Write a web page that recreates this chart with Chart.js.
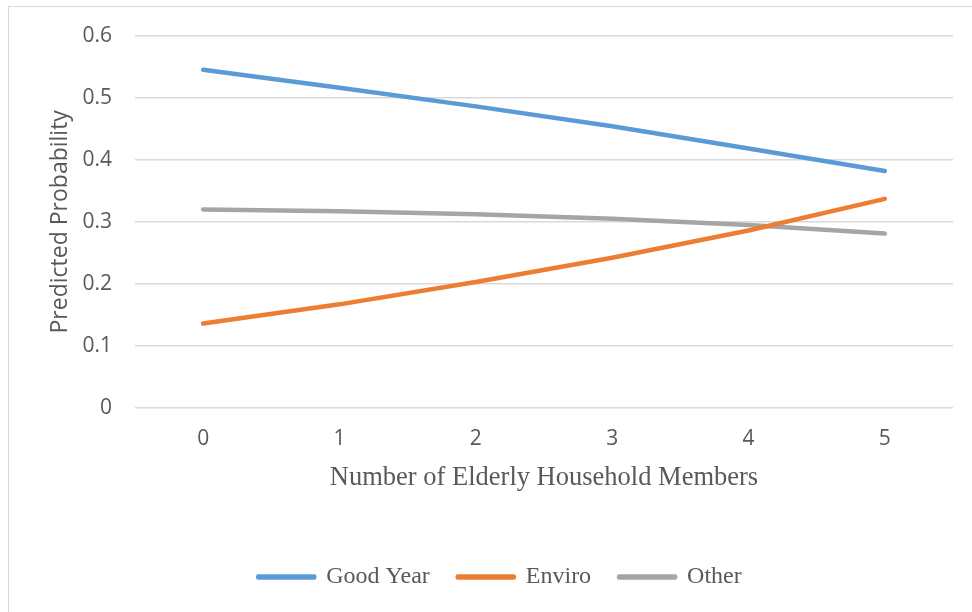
<!DOCTYPE html>
<html>
<head>
<meta charset="utf-8">
<script src="https://cdn.jsdelivr.net/npm/chart.js@4"></script>
<style>
  html, body { margin: 0; padding: 0; background: #fff; overflow: hidden; }
  #wrap { position: relative; width: 972px; height: 612px; }
  #frame { position: absolute; left: 8px; top: 6px; width: 1000px; height: 700px; border: 1px solid #d9d9d9; }
  #chart { position: absolute; left: 0; top: 0; }
</style>
</head>
<body>
<div id="wrap">
  <div id="frame"></div>
  <canvas id="chart" width="972" height="612"></canvas>
</div>
<script>
const members = ['0', '1', '2', '3', '4', '5'];
const goodYear = [0.545, 0.516, 0.486, 0.454, 0.418, 0.382];
const enviro = [0.136, 0.167, 0.203, 0.242, 0.286, 0.337];
const other = [0.320, 0.317, 0.312, 0.305, 0.295, 0.281];

const textGray = '#595959';
const sans = "'Open Sans', sans-serif";
const serif = "'Liberation Serif', 'Times New Roman', serif";

function series(label, values, color){
  return {
    label: label,
    data: values,
    borderColor: color,
    backgroundColor: color,
    borderWidth: 4.5,
    borderCapStyle: 'round',
    borderJoinStyle: 'round',
    pointRadius: 0,
    tension: 0
  };
}

const ctx = document.getElementById('chart').getContext('2d');
const chart = new Chart(ctx, {
  type: 'line',
  data: {
    labels: members,
    datasets: [
      series('Good Year', goodYear, '#5b9bd5'),
      series('Enviro', enviro, '#ed7d31'),
      series('Other', other, '#a5a5a5')
    ]
  },
  options: {
    responsive: false,
    animation: false,
    layout: { padding: { top: 35, right: 19, bottom: 13, left: 47 } },
    plugins: {
      tooltip: { enabled: false },
      legend: {
        position: 'bottom',
        labels: {
          color: textGray,
          font: { family: serif, size: 24 },
          boxWidth: 56,
          boxHeight: 1,
          padding: 28
        }
      }
    },
    scales: {
      x: {
        offset: true,
        grid: { display: false },
        border: { display: false },
        ticks: { color: textGray, font: { family: sans, size: 21 }, padding: 10 },
        title: {
          display: true,
          text: 'Number of Elderly Household Members',
          color: textGray,
          font: { family: serif, size: 26.5 },
          padding: { top: 0, bottom: 43 }
        },
        afterFit: scale => { scale.height = 129; }
      },
      y: {
        min: 0,
        max: 0.6,
        ticks: {
          stepSize: 0.1,
          color: textGray,
          font: { family: sans, size: 21 },
          padding: 23,
          callback: v => Math.round(v * 10) / 10
        },
        grid: { color: '#d9d9d9', lineWidth: 1.5, drawTicks: false },
        border: { display: false },
        title: {
          display: true,
          text: 'Predicted Probability',
          color: textGray,
          font: { family: sans, size: 23 },
          padding: { top: 0, bottom: 0 }
        },
        afterFit: scale => { scale.width = 88; }
      }
    }
  }
});
</script>
</body>
</html>
